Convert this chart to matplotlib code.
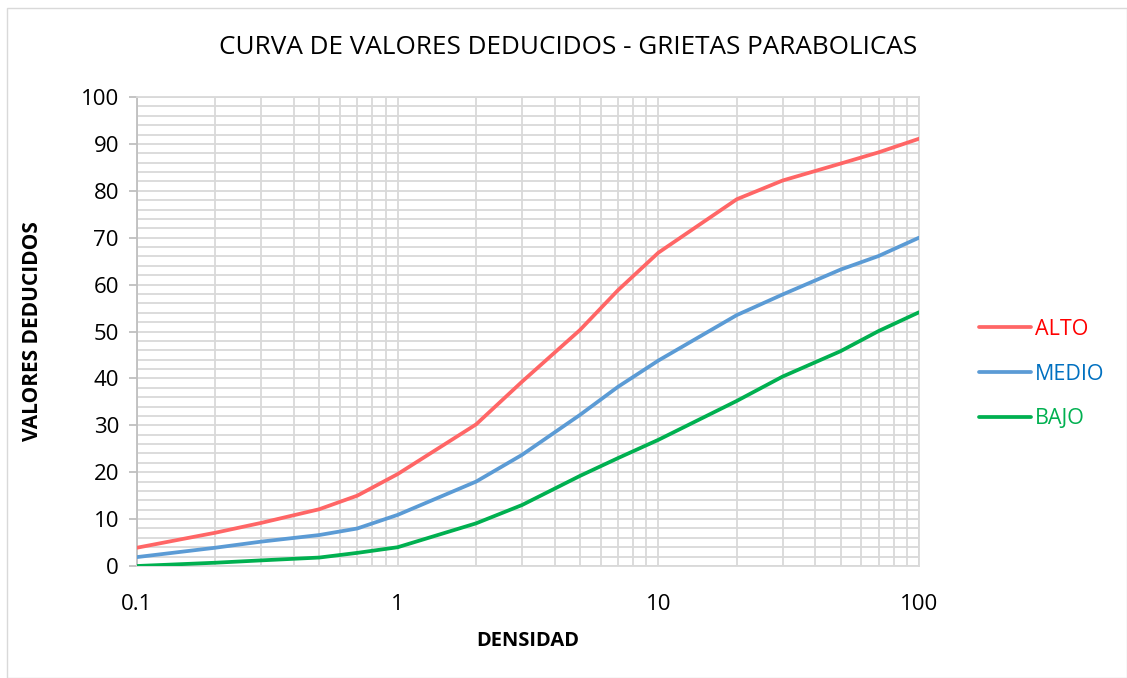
import matplotlib
matplotlib.use("Agg")
import matplotlib.pyplot as plt
from matplotlib.ticker import LogLocator, FixedLocator, NullFormatter, FuncFormatter
from matplotlib.patches import Rectangle

density = [0.1, 0.2, 0.3, 0.5, 0.7, 1, 2, 3, 5, 7, 10, 20, 30, 50, 70, 100]
alto = [3.9, 7.1, 9.2, 12.1, 15.0, 19.6, 30.2, 39.3, 50.3, 58.8, 66.8, 78.2, 82.2, 85.8, 88.2, 91.1]
medio = [1.9, 3.9, 5.2, 6.6, 8.0, 10.9, 18.0, 23.7, 32.2, 38.2, 43.8, 53.5, 57.9, 63.2, 66.1, 70.0]
bajo = [0.0, 0.7, 1.2, 1.8, 2.8, 4.0, 9.1, 13.0, 19.2, 23.0, 26.9, 35.2, 40.4, 45.8, 50.1, 54.1]

series_names = ["ALTO", "MEDIO", "BAJO"]
line_colors = ["#FF6666", "#5B9BD5", "#00B050"]
label_colors = ["#FF0000", "#0070C0", "#00B050"]

title = "CURVA DE VALORES DEDUCIDOS - GRIETAS PARABOLICAS"
xlabel = "DENSIDAD"
ylabel = "VALORES DEDUCIDOS"

plt.rcParams['font.family'] = ['Open Sans', 'DejaVu Sans']

fig = plt.figure(figsize=(11.27, 6.78), dpi=100)
ax = fig.add_axes([137/1127, 1-566/678, (919-137)/1127, (566-97)/678])

for vals, name, c in zip([alto, medio, bajo], series_names, line_colors):
    ax.plot(density, vals, color=c, lw=2.7, label=name, solid_capstyle='round',
            solid_joinstyle='round', zorder=3)

ax.set_xscale('log')
ax.set_xlim(0.1, 100)
ax.set_ylim(0, 100)
ax.xaxis.set_major_locator(FixedLocator([0.1, 1, 10, 100]))
ax.xaxis.set_major_formatter(FuncFormatter(lambda v, p: f"{v:g}"))
ax.xaxis.set_minor_locator(LogLocator(base=10, subs=range(2, 10)))
ax.xaxis.set_minor_formatter(NullFormatter())
ax.yaxis.set_major_locator(FixedLocator(range(0, 101, 10)))
ax.yaxis.set_minor_locator(FixedLocator([v for v in range(0, 101, 2) if v % 10]))

gc = "#D9D9D9"
ax.grid(True, which='both', color=gc, lw=1.3, zorder=0)
ax.set_axisbelow(True)
for s in ['top', 'right', 'bottom']:
    ax.spines[s].set_color(gc)
    ax.spines[s].set_linewidth(1.3)
ax.spines['left'].set_color("#BFBFBF")
ax.spines['left'].set_linewidth(1.3)

ax.tick_params(axis='x', which='both', length=0, labelsize=16, pad=20, colors='black')
ax.tick_params(axis='y', which='major', length=6, width=1.3, color="#BFBFBF", labelsize=16, pad=7)
ax.tick_params(axis='y', which='minor', length=0)

ax.set_xlabel(xlabel, fontsize=14.5, fontweight='bold', labelpad=12)
ax.set_ylabel(ylabel, fontsize=15, fontweight='bold', labelpad=27)

fig.text(568/1127, 1-47/678, title, ha='center', va='center', fontsize=18.8)

leg = fig.legend(loc='center left', bbox_to_anchor=(960/1127, 1-374/678), frameon=False,
                 fontsize=15.5, labelcolor=label_colors, handlelength=2.4, handletextpad=0.2,
                 labelspacing=1.1)

fig.patches.append(Rectangle((7/1127, 0), 1-7/1127, 1-8/678, transform=fig.transFigure,
                             fill=False, edgecolor=gc, lw=1.0))

fig.savefig("out.png", dpi=100)
